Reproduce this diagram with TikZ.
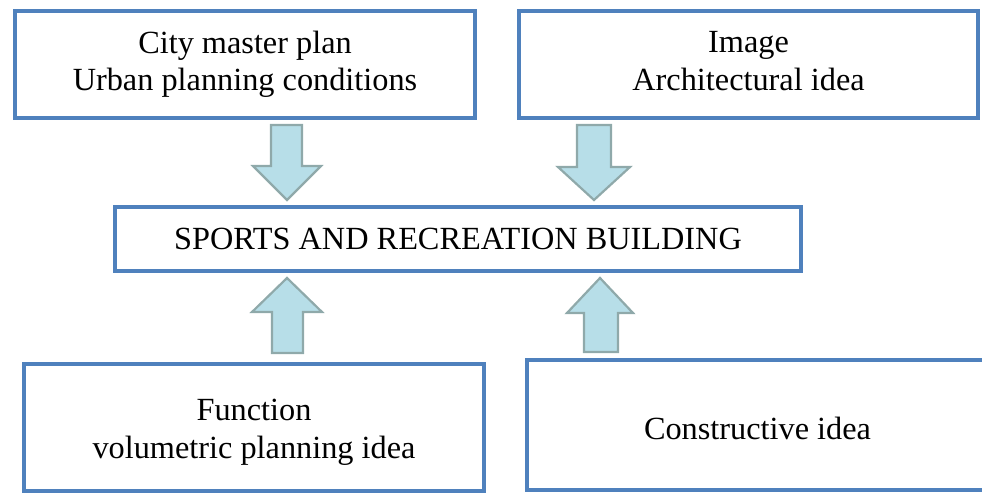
\documentclass[tikz,border=0pt]{standalone}
\usepackage{fontspec}
\setmainfont{Liberation Serif}
\usepackage{tikz}
\definecolor{schemeblue}{HTML}{4F81BD}
\definecolor{arrowfill}{HTML}{B7DEE8}
\definecolor{arrowedge}{HTML}{8FA9AA}

\begin{document}
\begin{tikzpicture}[x=1pt,y=-1pt,
    box/.style={draw=schemeblue,line width=4.3pt,fill=white,align=center,
      inner sep=0pt,font=\fontsize{32.3}{37.5}\selectfont},
    boxtext/.style={align=center,inner sep=0pt,font=\fontsize{32.3}{38.5}\selectfont},
    fatarrow/.style={draw=arrowedge,fill=arrowfill,line width=2.2pt,line join=miter}]
    \useasboundingbox (0,0) rectangle (982,495);
    \clip (0,0) rectangle (982,495);
    % the four sources and the building they feed
    \node[box,minimum width=460pt,minimum height=107pt] (plan) at (245,64.5)
      {City master plan\\Urban planning conditions};
    \node[box,minimum width=459pt,minimum height=107pt] (image) at (748.5,64.5)
      {Image\\Architectural idea\vphantom{g}};
    \node[box,minimum width=686pt,minimum height=64pt] (building) at (458,239)
      {SPORTS AND RECREATION BUILDING};
    \node[box,minimum width=460pt,minimum height=127pt] (function) at (254,427.5) {};
    \node[boxtext] (functiontext) at ([yshift=-5pt]function.center)
      {Function\\volumetric planning idea};
    \node[box,minimum width=461pt,minimum height=130pt] (construct) at (757.5,425) {};
    \node[boxtext] (constructtext) at ([yshift=-3pt]construct.center) {Constructive idea};
    % block arrows into the building
    \draw[fatarrow] (271,125) -- (302,125) -- (302,166) -- (321,166) -- (287,200)
      -- (253,166) -- (271,166) -- cycle;
    \draw[fatarrow] (577,125) -- (611,125) -- (611,167) -- (630,167) -- (594,200)
      -- (558,167) -- (577,167) -- cycle;
    \draw[fatarrow] (272,353) -- (303,353) -- (303,312) -- (322,312) -- (287,278)
      -- (252,312) -- (272,312) -- cycle;
    \draw[fatarrow] (584,352) -- (618,352) -- (618,313) -- (633,313) -- (600,278)
      -- (567,313) -- (584,313) -- cycle;
\end{tikzpicture}
\end{document}
